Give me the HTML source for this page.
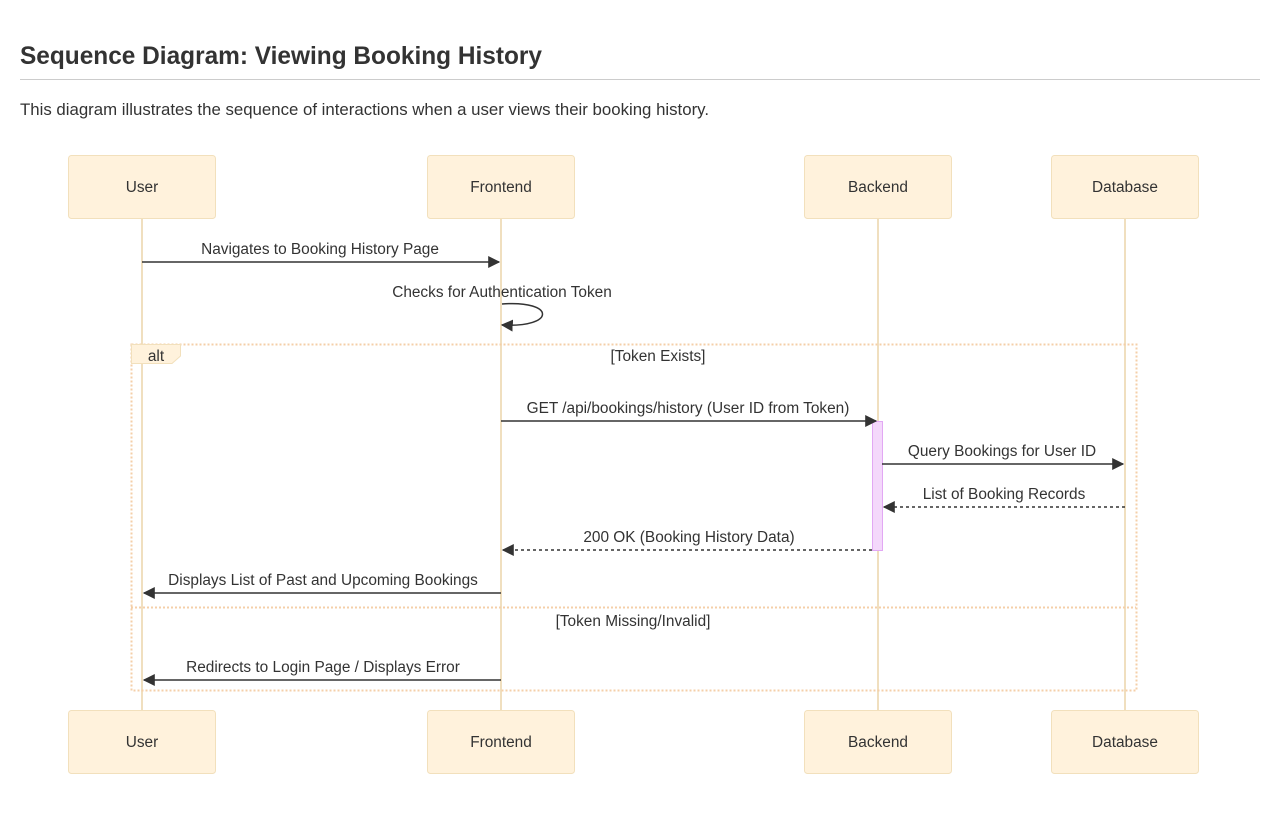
<!DOCTYPE html>
<html><head><meta charset="utf-8"><style>
html,body{margin:0;padding:0;background:#fff;width:1280px;height:815px;overflow:hidden}
svg{display:block}
text{font-family:"Liberation Sans",sans-serif}
</style></head><body>
<svg width="1280" height="815" viewBox="0 0 1280 815" xmlns="http://www.w3.org/2000/svg">
<defs>
<marker id="a" viewBox="0 0 10 10" refX="9" refY="5" markerWidth="12" markerHeight="12" markerUnits="userSpaceOnUse" orient="auto"><path d="M0,0L10,5L0,10z" fill="#333"/></marker>
</defs>
<text x="20" y="64" font-size="25" font-weight="bold" fill="#333" textLength="522" lengthAdjust="spacingAndGlyphs">Sequence Diagram: Viewing Booking History</text>
<line x1="20" y1="79.5" x2="1260" y2="79.5" stroke="#ccc"/>
<text x="20" y="115" font-size="16.5" fill="#333" textLength="689" lengthAdjust="spacingAndGlyphs">This diagram illustrates the sequence of interactions when a user views their booking history.</text>
<g stroke="#f0dfbf" stroke-width="2">
<line x1="142" y1="219" x2="142" y2="710"/><line x1="501" y1="219" x2="501" y2="710"/>
<line x1="878" y1="219" x2="878" y2="710"/><line x1="1125" y1="219" x2="1125" y2="710"/>
</g>
<g fill="#fff2dc" stroke="#f2e0bc">
<rect x="68.5" y="155.5" width="147" height="63" rx="3"/><rect x="427.5" y="155.5" width="147" height="63" rx="3"/>
<rect x="804.5" y="155.5" width="147" height="63" rx="3"/><rect x="1051.5" y="155.5" width="147" height="63" rx="3"/>
<rect x="68.5" y="710.5" width="147" height="63" rx="3"/><rect x="427.5" y="710.5" width="147" height="63" rx="3"/>
<rect x="804.5" y="710.5" width="147" height="63" rx="3"/><rect x="1051.5" y="710.5" width="147" height="63" rx="3"/>
</g>
<g font-size="15.4" fill="#333" text-anchor="middle">
<text x="142" y="192">User</text><text x="501" y="192">Frontend</text><text x="878" y="192">Backend</text><text x="1125" y="192">Database</text>
<text x="142" y="747">User</text><text x="501" y="747">Frontend</text><text x="878" y="747">Backend</text><text x="1125" y="747">Database</text>
</g>
<rect x="131.5" y="344.5" width="1005" height="346" fill="none" stroke="#f4cfa8" stroke-width="2" stroke-dasharray="2,2"/>
<line x1="131" y1="607.5" x2="1136" y2="607.5" stroke="#f4cfa8" stroke-width="2" stroke-dasharray="2,2"/>
<path d="M131.5,344.5H180.5V356L172,363.5H131.5Z" fill="#fff2dc" stroke="#f2e0bc"/>
<rect x="872.5" y="421.5" width="10" height="129" fill="#f4d8fb" stroke="#e2a8f4"/>
<g font-size="15.4" fill="#333" text-anchor="middle">
<text x="156" y="361">alt</text>
<text x="658" y="361">[Token Exists]</text>
<text x="633" y="626">[Token Missing/Invalid]</text>
<text x="320" y="254">Navigates to Booking History Page</text>
<text x="502" y="297">Checks for Authentication Token</text>
<text x="688" y="413">GET /api/bookings/history (User ID from Token)</text>
<text x="1002" y="456">Query Bookings for User ID</text>
<text x="1004" y="499">List of Booking Records</text>
<text x="689" y="542">200 OK (Booking History Data)</text>
<text x="323" y="585">Displays List of Past and Upcoming Bookings</text>
<text x="323" y="672">Redirects to Login Page / Displays Error</text>
</g>
<g stroke="#333" stroke-width="1.5" fill="none" marker-end="url(#a)">
<line x1="142" y1="262" x2="499" y2="262"/>
<path d="M502,304C556,300 556,328 502,325"/>
<line x1="501" y1="421" x2="876" y2="421"/>
<line x1="882" y1="464" x2="1123" y2="464"/>
<line x1="1125" y1="507" x2="884" y2="507" stroke-dasharray="3,3"/>
<line x1="872" y1="550" x2="503" y2="550" stroke-dasharray="3,3"/>
<line x1="501" y1="593" x2="144" y2="593"/>
<line x1="501" y1="680" x2="144" y2="680"/>
</g>
</svg>
</body></html>
